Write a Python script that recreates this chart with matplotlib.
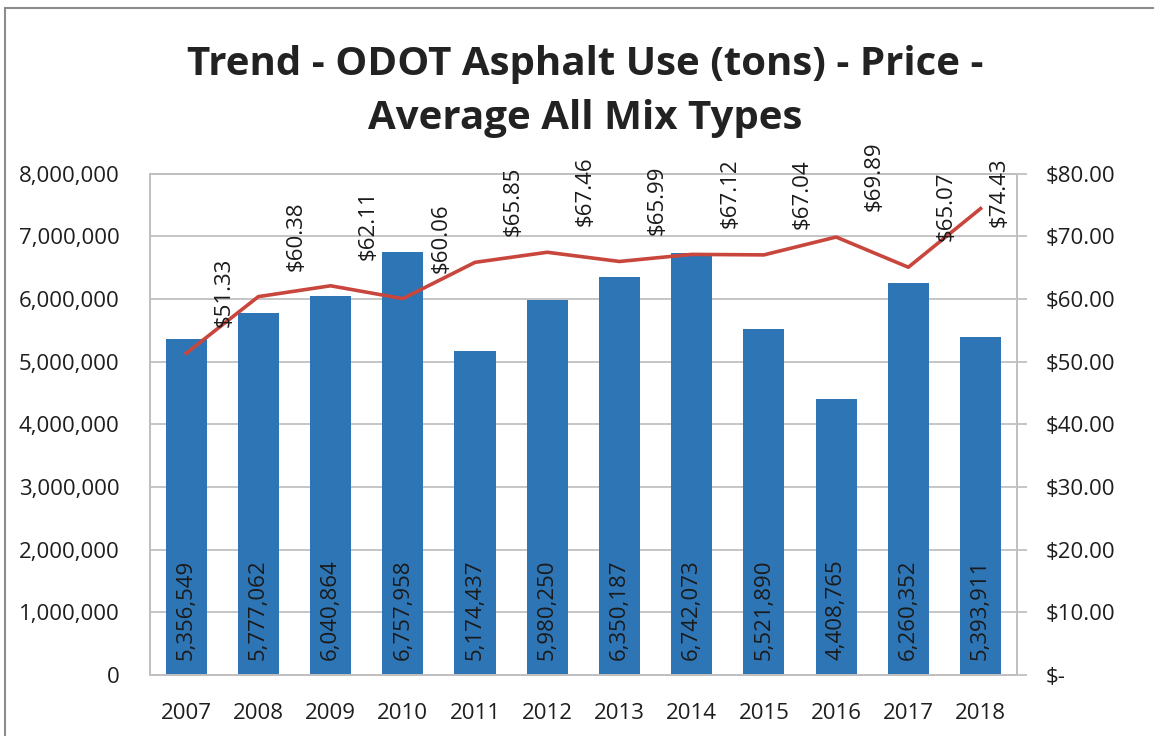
import matplotlib.pyplot as plt
from matplotlib.patches import Rectangle
from matplotlib.ticker import FuncFormatter, MultipleLocator

# Data
years = ["2007", "2008", "2009", "2010", "2011", "2012",
         "2013", "2014", "2015", "2016", "2017", "2018"]
tons = [5356549, 5777062, 6040864, 6757958, 5174437, 5980250,
        6350187, 6742073, 5521890, 4408765, 6260352, 5393911]
price = [51.33, 60.38, 62.11, 60.06, 65.85, 67.46,
         65.99, 67.12, 67.04, 69.89, 65.07, 74.43]

BAR_COLOR = "#2E75B6"
LINE_COLOR = "#C9463D"
GRID_COLOR = "#C0C0C0"
TEXT_COLOR = "#1e1e1e"

plt.rcParams["font.family"] = ["Open Sans", "DejaVu Sans"]

fig = plt.figure(figsize=(11.54, 7.36), dpi=100)
ax = fig.add_axes([0.130, 0.083, 0.751, 0.681])

# outer chart frame (only top and left edges are visible in the scan)
fig.patches.append(Rectangle((5 / 1154, -0.05), 1.1, 1 - 8 / 736 + 0.05,
                             transform=fig.transFigure, fill=False,
                             edgecolor="#8C8C8C", linewidth=1.5))

x = list(range(len(years)))
bars = ax.bar(x, tons, width=0.57, color=BAR_COLOR, zorder=2)

ax.set_xlim(-0.5, len(years) - 0.5)
ax.set_ylim(0, 8000000)
ax.yaxis.set_major_locator(MultipleLocator(1000000))
ax.yaxis.set_major_formatter(FuncFormatter(lambda v, p: f"{int(v):,}"))
ax.set_xticks(x)
ax.set_xticklabels(years)
ax.grid(axis="y", color=GRID_COLOR, linewidth=1.3, zorder=0)
ax.tick_params(axis="y", length=0, labelsize=16, labelcolor=TEXT_COLOR, pad=22)
ax.tick_params(axis="x", length=0, labelsize=16, labelcolor=TEXT_COLOR, pad=20)
for s in ax.spines.values():
    s.set_color(GRID_COLOR)
    s.set_linewidth(1.3)

# bar value labels, rotated, at the base inside each bar
for xi, v in zip(x, tons):
    ax.annotate(f"{v:,}", (xi, 0), xytext=(0, 15), textcoords="offset pixels",
                rotation=90, ha="center", va="bottom", fontsize=16,
                color="#1a1a1a", zorder=4)

# price line on secondary axis
ax2 = ax.twinx()
ax2.plot(x, price, color=LINE_COLOR, linewidth=2.6, zorder=3)
ax2.set_ylim(0, 80)
ax2.yaxis.set_major_locator(MultipleLocator(10))
ax2.yaxis.set_major_formatter(
    FuncFormatter(lambda v, p: "$-" if v == 0 else f"${v:.2f}"))
ax2.tick_params(axis="y", length=7, width=1.3, color=GRID_COLOR,
                labelsize=16, labelcolor=TEXT_COLOR, pad=14)
for s in ax2.spines.values():
    s.set_color(GRID_COLOR)
    s.set_linewidth(1.3)

# price labels sit to the right of each point; the last one is pulled back
# inside the plot area like Excel does
for xi, p in zip(x, price):
    if xi == len(x) - 1:
        off = (19, -18)
    else:
        off = (38, 26)
    ax2.annotate(f"${p:.2f}", (xi, p), xytext=off,
                 textcoords="offset pixels", rotation=90,
                 ha="center", va="bottom", fontsize=16, color="#1a1a1a",
                 annotation_clip=False)

fig.text(0.507, 0.876, "Trend - ODOT Asphalt Use (tons) - Price -\nAverage All Mix Types",
         ha="center", va="center", fontsize=29, fontweight="bold",
         color="#222222", linespacing=1.5)

fig.savefig("out.png", dpi=100)
